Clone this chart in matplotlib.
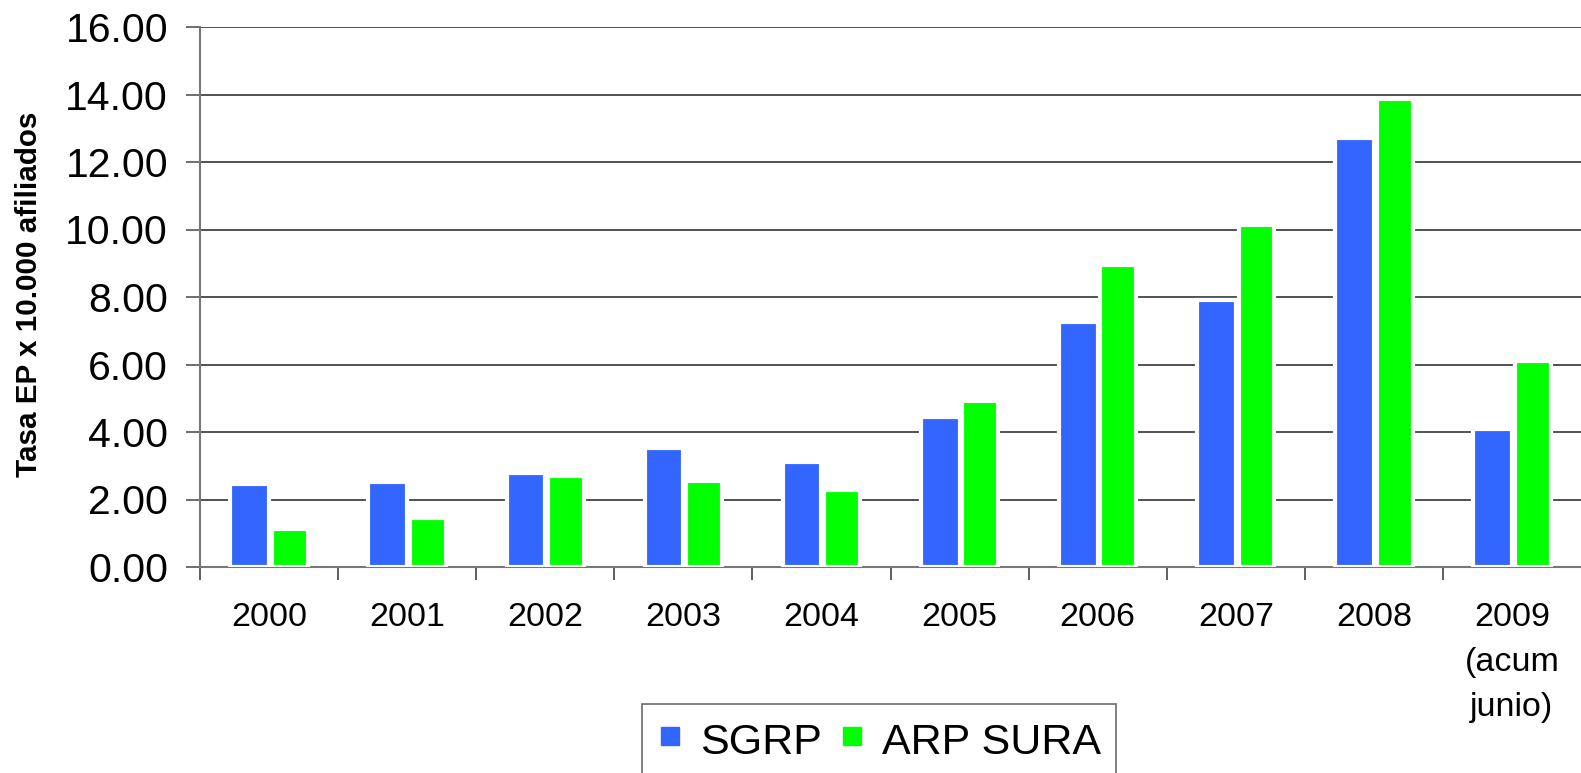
import numpy as np
import matplotlib.pyplot as plt
from matplotlib.lines import Line2D

plt.rcParams['font.family'] = ['Liberation Sans', 'DejaVu Sans']

# data
years = ['2000', '2001', '2002', '2003', '2004', '2005', '2006', '2007', '2008',
         '2009\n(acum\njunio)']
sgrp = [2.45, 2.53, 2.78, 3.53, 3.11, 4.45, 7.26, 7.92, 12.70, 4.10]
arp_sura = [1.13, 1.45, 2.69, 2.54, 2.27, 4.93, 8.96, 10.13, 13.86, 6.09]
yticks = np.arange(0, 17, 2)

blue = '#3366FF'
green = '#00FF00'

fig = plt.figure(figsize=(15.81, 7.73), dpi=100)
ax = fig.add_axes([200 / 1581, 1 - 567 / 773, 1 - 200 / 1581, (567 - 27) / 773])

x = np.arange(len(years))
#bars with white edge so the grid breaks around them
ax.bar(x - 0.14, sgrp, 0.28, color=blue, edgecolor='white', linewidth=3, zorder=3)
ax.bar(x + 0.15, arp_sura, 0.26, color=green, edgecolor='white', linewidth=3, zorder=3)

ax.set_xlim(-0.5, len(years) - 0.5)
ax.set_ylim(0, 16)
ax.set_yticks(yticks)
ax.set_yticklabels(['%.2f' % v for v in yticks], fontsize=29.5)
ax.yaxis.grid(True, color='#222222', linewidth=1.1, zorder=0)
ax.set_axisbelow(True)

ax.set_xticks(x)
ax.set_xticklabels(years, fontsize=24.5, linespacing=1.58, va='top')
ax.set_xticks(np.arange(-0.5, len(years) - 0.5, 1), minor=True)
ax.tick_params(axis='x', which='major', length=0, pad=25)
ax.tick_params(axis='x', which='minor', length=9, width=1.2, color='#444444', direction='out')
ax.tick_params(axis='y', length=10, width=1.2, color='#555555', pad=13)

for s in ['top', 'right']:
    ax.spines[s].set_visible(False)
ax.spines['left'].set_color('#777777')
ax.spines['left'].set_linewidth(1.5)
ax.spines['bottom'].set_color('#777777')
ax.spines['bottom'].set_linewidth(1.5)

fig.text(29 / 1581, 1 - 294.5 / 773, 'Tasa EP x 10.000 afiliados', rotation=90,
         ha='center', va='center', fontsize=21.3, fontweight='bold')

handles = [Line2D([], [], marker='s', color=blue, linestyle='none', markersize=13),
           Line2D([], [], marker='s', color=green, linestyle='none', markersize=13)]
leg = fig.legend(handles, ['SGRP', 'ARP SURA'], loc='upper left',
                 bbox_to_anchor=(642 / 1581, 1 - 704 / 773), borderaxespad=0,
                 ncol=2, fontsize=31, frameon=True, fancybox=False,
                 handlelength=0.6, handleheight=1.05, handletextpad=0.4,
                 columnspacing=0.4, borderpad=0.35)
leg.get_frame().set_edgecolor('#444444')
leg.get_frame().set_linewidth(1.2)

fig.savefig('out.png', dpi=100)
